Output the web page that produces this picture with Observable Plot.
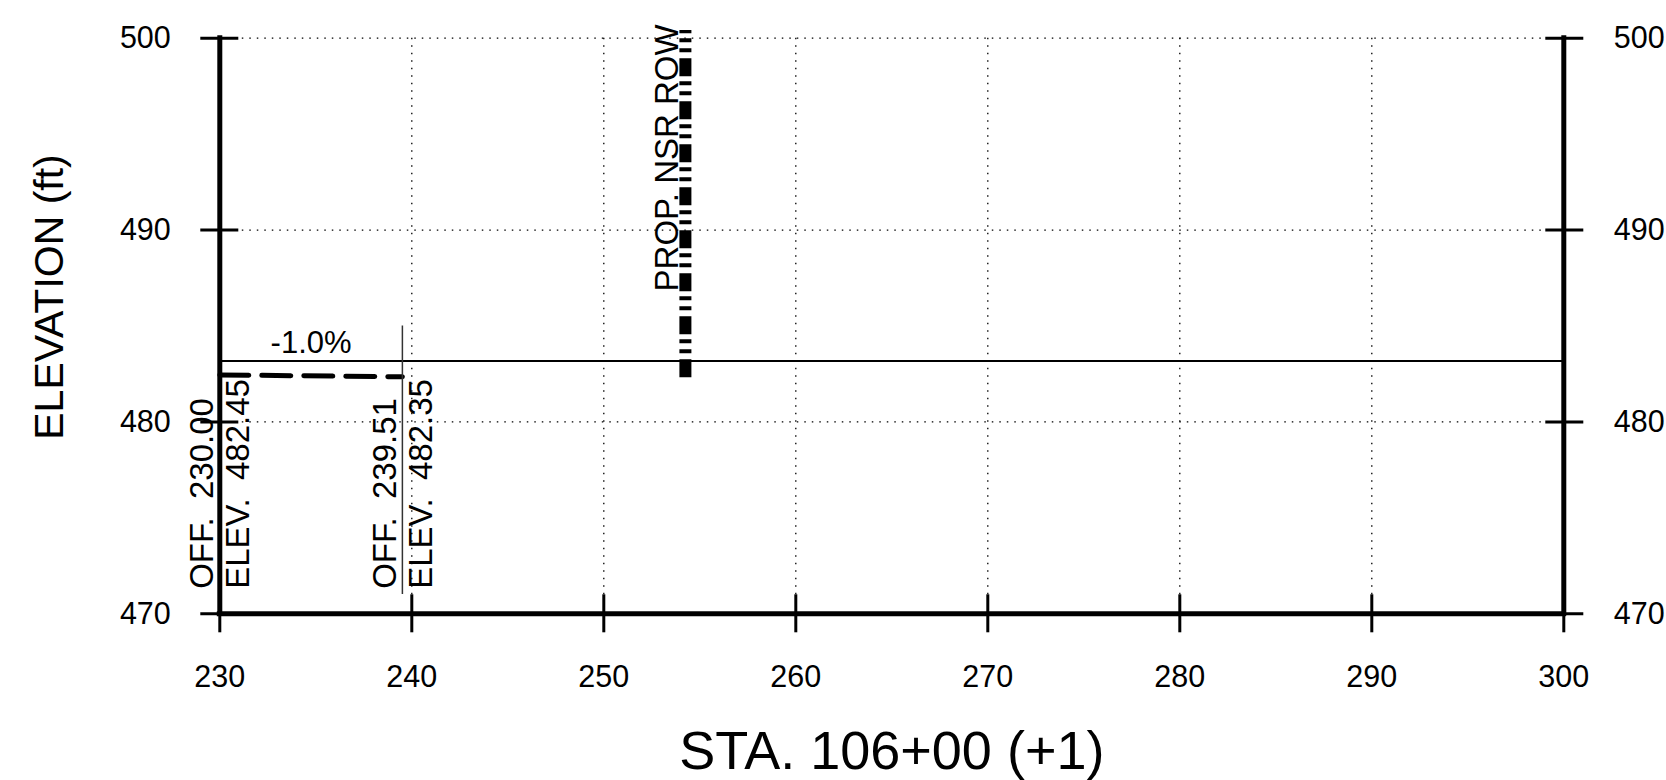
<!DOCTYPE html>
<html>
<head>
<meta charset="utf-8">
<script src="https://cdn.jsdelivr.net/npm/d3@7"></script>
<script src="https://cdn.jsdelivr.net/npm/@observablehq/plot@0.6"></script>
<style>
  html, body { margin: 0; padding: 0; background: white; }
  #chart { width: 1666px; height: 780px; }
</style>
</head>
<body>
<div id="chart"></div>
<script>
// ---- data ----
const xDomain = [230, 300];
const yDomain = [470, 500];
const xTicks = [230, 240, 250, 260, 270, 280, 290, 300];
const yTicks = [470, 480, 490, 500];

// proposed grade line (solid)
const gradeX = [230, 300];
const gradeY = [483.17, 483.17];

// existing/edge points (dashed)
const pointOffsets = [230.00, 239.51];
const pointElevs = [482.45, 482.35];
const slopeLabel = ["-1.0%"];

// offset marker line at second point
const markerX = [239.51];
const markerY = [471, 485];

// proposed ROW line
const rowX = [254.25];
const rowY = [482.3, 500.4];
const rowLabel = ["PROP. NSR ROW"];
const rowLabelY = 486.8;

// label baseline elevation
const labelBaseY = 471.3;

const xTitle = "STA. 106+00 (+1)";
const yTitle = "ELEVATION (ft)";

// ---- derived tables ----
const gradeData = gradeX.map((x, i) => ({x, y: gradeY[i]}));
const dashData = pointOffsets.map((x, i) => ({x, y: pointElevs[i]}));
const nb = "\u00a0\u00a0";
const offLabels = pointOffsets.map(x => ({x, y: labelBaseY, t: "OFF." + nb + x.toFixed(2)}));
const elevLabels = pointOffsets.map((x, i) => ({x, y: labelBaseY, t: "ELEV." + nb + pointElevs[i].toFixed(2)}));
const slopeData = [{x: (pointOffsets[0] + pointOffsets[1]) / 2, y: gradeY[0], t: slopeLabel[0]}];

const font = "'Liberation Sans', Arial, Helvetica, sans-serif";

const chart = Plot.plot({
  width: 1666,
  height: 780,
  marginLeft: 219.3,
  marginRight: 102.7,
  marginTop: 37.7,
  marginBottom: 166.7,
  x: {domain: xDomain},
  y: {domain: yDomain},
  style: {background: "white", color: "black", fontFamily: font, fontSize: "30.5px", overflow: "visible"},
  marks: [
    Plot.gridX(xTicks, {stroke: "black", strokeOpacity: 1, strokeWidth: 1.3, strokeDasharray: "1.5,6"}),
    Plot.gridY(yTicks, {stroke: "black", strokeOpacity: 1, strokeWidth: 1.3, strokeDasharray: "1.5,6"}),
    Plot.line(gradeData, {x: "x", y: "y", stroke: "black", strokeWidth: 2}),
    Plot.line(dashData, {x: "x", y: "y", stroke: "black", strokeWidth: 5, strokeDasharray: "29,13"}),
    Plot.ruleX(markerX, {y1: markerY[0], y2: markerY[1], stroke: "#333", strokeWidth: 1.5}),
    Plot.ruleX(rowX, {y1: rowY[0], y2: rowY[1], stroke: "black", strokeWidth: 12, strokeDasharray: "18,6,4,6,4,5"}),
    // frame axes lines
    Plot.ruleX([xDomain[0], xDomain[1]], {stroke: "black", strokeWidth: 5, strokeLinecap: "square"}),
    Plot.ruleY([yDomain[0]], {stroke: "black", strokeWidth: 5, strokeLinecap: "square"}),
    // ticks and labels
    Plot.axisX(xTicks, {anchor: "bottom", label: null, tickSize: 38, dy: -19, tickPadding: 33, strokeWidth: 3, tickFormat: d => String(d)}),
    Plot.axisY(yTicks, {anchor: "left", label: null, tickSize: 38, dx: 19, tickPadding: 30, strokeWidth: 3, tickFormat: d => String(d)}),
    Plot.axisY(yTicks, {anchor: "right", label: null, tickSize: 38, dx: -19, tickPadding: 31, strokeWidth: 3, tickFormat: d => String(d)}),
    // annotations
    Plot.text(offLabels, {x: "x", y: "y", text: "t", rotate: -90, textAnchor: "start", lineAnchor: "bottom", dx: -6.5, fontSize: 33, fill: "black"}),
    Plot.text(elevLabels, {x: "x", y: "y", text: "t", rotate: -90, textAnchor: "start", lineAnchor: "top", dx: 6, fontSize: 33, fill: "black"}),
    Plot.text(slopeData, {x: "x", y: "y", text: "t", lineAnchor: "bottom", dy: -8, fontSize: 31, fill: "black"}),
    Plot.text(rowLabel, {x: () => rowX[0], y: () => rowLabelY, text: d => d, rotate: -90, textAnchor: "start", lineAnchor: "bottom", dx: -7, fontSize: 33, fill: "black"}),
    // titles
    Plot.text([yTitle], {frameAnchor: "left", text: d => d, rotate: -90, textAnchor: "middle", lineAnchor: "top", dx: -186, dy: -29, fontSize: 41, fill: "black"}),
    Plot.text([xTitle], {frameAnchor: "bottom", text: d => d, textAnchor: "middle", lineAnchor: "bottom", dy: 155, fontSize: 54, fill: "black"})
  ]
});
document.getElementById("chart").appendChild(chart);
</script>
</body>
</html>
